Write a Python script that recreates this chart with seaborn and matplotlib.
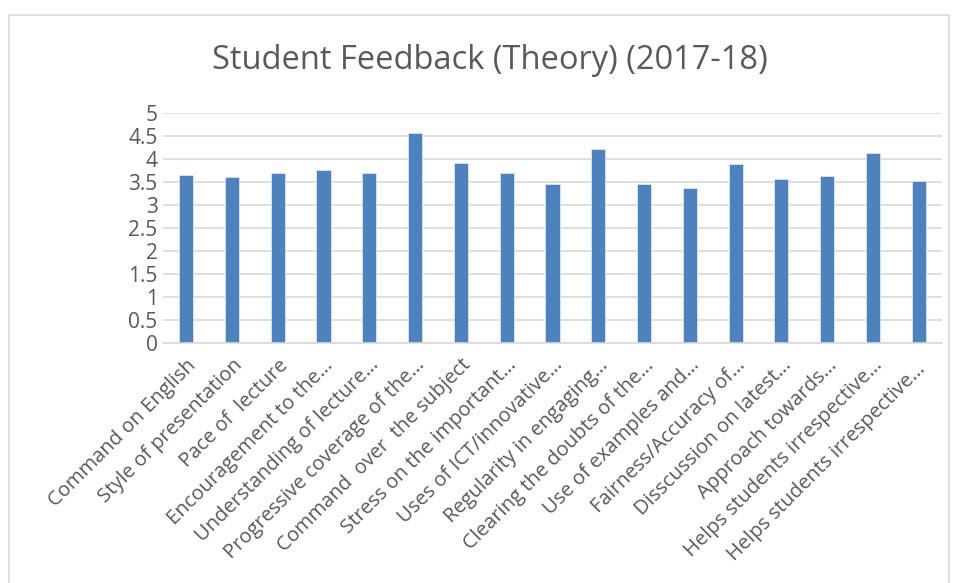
import matplotlib
matplotlib.use("Agg")
import matplotlib.pyplot as plt
import seaborn as sns
import pandas as pd
from matplotlib.patches import Rectangle

# Chart data
categories = [
    "Command on English",
    "Style of presentation",
    "Pace of  lecture",
    "Encouragement to the…",
    "Understanding of lecture…",
    "Progressive coverage of the…",
    "Command  over  the subject",
    "Stress on the important…",
    "Uses of ICT/innovative…",
    "Regularity in engaging…",
    "Clearing the doubts of the…",
    "Use of examples and…",
    "Fairness/Accuracy of…",
    "Disscussion on latest…",
    "Approach towards…",
    "Helps students irrespective…",
    "Helps students irrespective… ",
]
scores = [3.65, 3.6, 3.7, 3.76, 3.7, 4.56, 3.92, 3.7, 3.45, 4.22,
          3.45, 3.37, 3.89, 3.56, 3.64, 4.14, 3.53]
y_ticks = [0, 0.5, 1, 1.5, 2, 2.5, 3, 3.5, 4, 4.5, 5]
y_tick_labels = ["0", "0.5", "1", "1.5", "2", "2.5", "3", "3.5", "4", "4.5", "5"]

df = pd.DataFrame({"category": categories, "score": scores})

sns.set_style("white")
plt.rcParams["font.family"] = ["Open Sans", "DejaVu Sans"]
text_color = "#595959"

fig = plt.figure(figsize=(9.55, 5.83), dpi=100)
ax = fig.add_axes([0.171, 0.412, 0.815, 0.394])

sns.barplot(data=df, x="category", y="score", color="#4f81bd", width=0.31,
            edgecolor="#dce6f2", linewidth=0.6, saturation=1, ax=ax)

ax.set_ylim(0, 5)
ax.set_yticks(y_ticks)
ax.set_yticklabels(y_tick_labels, fontsize=15, color=text_color)
ax.yaxis.grid(True, color="#d9d9d9", linewidth=1.2)
ax.set_axisbelow(True)
ax.set_xlim(-0.5, len(categories) - 0.5)
ax.set_xticks(range(len(categories)))
ax.set_xticklabels(categories, rotation=45, ha="right", rotation_mode="anchor",
                   fontsize=14.5, color=text_color)
ax.tick_params(axis="both", length=0, pad=4)
ax.tick_params(axis="x", pad=9)
ax.set_xlabel("")
ax.set_ylabel("")
for side in ["top", "right", "left"]:
    ax.spines[side].set_visible(False)
ax.spines["bottom"].set_color("#d9d9d9")
ax.spines["bottom"].set_linewidth(1.2)

fig.text(0.513, 0.897, "Student Feedback (Theory) (2017-18)", ha="center",
         va="center", fontsize=23.5, color=text_color)

# light border around the chart area
fig.patches.append(Rectangle((0.009, -0.01), 0.985, 0.985, transform=fig.transFigure,
                             fill=False, edgecolor="#d9d9d9", linewidth=1.2))

fig.savefig("out.png", dpi=100)
